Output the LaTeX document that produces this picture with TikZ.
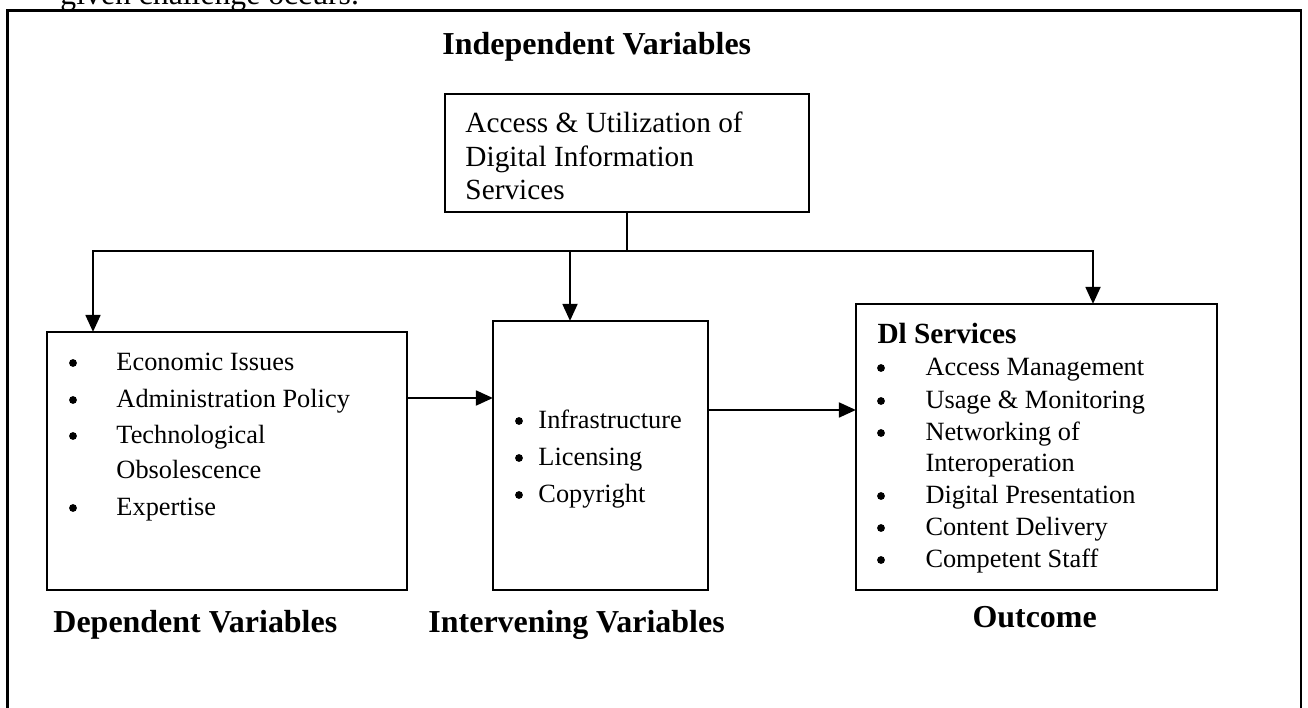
\documentclass[tikz,border=0pt]{standalone}
\usepackage{fontspec}
\setmainfont{Liberation Serif}
\usetikzlibrary{arrows.meta}
\begin{document}
\begin{tikzpicture}[x=0.41pt,y=-0.41pt,
  box/.style={draw, line width=0.8pt, inner sep=0pt, outer sep=0pt},
  conn/.style={line width=1.2pt},
  arr/.style={line width=1.2pt, -{Triangle[width=6pt,length=7pt]}},
  lbl/.style={anchor=base west, inner sep=0pt},
  body/.style={font=\fontsize{12}{14}\selectfont},
  item/.style={font=\fontsize{10.8}{13}\selectfont},
  ttl/.style={font=\fontsize{13.1}{15}\selectfont\bfseries},
  dot/.style={circle, fill, draw=none, inner sep=0pt, minimum size=3.2pt}]
\useasboundingbox (0,0) rectangle (1308,707);
% partial text above the frame
\node[lbl, font=\fontsize{13}{15}\selectfont] (prev) at (60,4) {given challenge occurs.};
% outer frame
\draw[line width=1pt] (7.5,730) -- (7.5,10.5) -- (1301,10.5) -- (1301,730);
% boxes
\node[box, line width=0.6pt, minimum width=149.24pt, minimum height=48.38pt] (top) at (627,153) {};
\node[box, minimum width=147.6pt, minimum height=105.78pt] (dep) at (227,461) {};
\node[box, minimum width=88.15pt, minimum height=110.29pt] (mid) at (600.5,455.5) {};
\node[box, minimum width=148.01pt, minimum height=117.26pt] (out) at (1036.5,447) {};
% connectors
\coordinate (junc) at (627,251);
\coordinate (jl) at (93,251);
\coordinate (jm) at (570,251);
\coordinate (jr) at (1093,251);
\draw[line width=0.6pt] (top.south) -- (junc);
\draw[arr] (junc) -- (jl) -- (jl |- dep.north);
\draw[arr] (junc) -- (jr) -- (jr |- out.north);
\draw[arr] (jm) -- (jm |- mid.north);
\coordinate (a1) at ([yshift=25.83pt]dep.east);
\draw[arr] (a1) -- (a1 -| mid.west);
\coordinate (a2) at ([yshift=18.66pt]mid.east);
\draw[arr] (a2) -- (a2 -| out.west);
% titles
\node[lbl, ttl] (ti) at (442,54) {Independent Variables};
\node[lbl, ttl] (td) at (53,632) {Dependent Variables};
\node[lbl, ttl] (tv) at (428,632) {Intervening Variables};
\node[lbl, ttl] (to) at (972,627) {Outcome};
% top box text
\node[lbl, body] (tb1) at (465,132) {Access \& Utilization of};
\node[lbl, body] (tb2) at (465,166) {Digital Information};
\node[lbl, body] (tb3) at (465,199) {Services};
% left list
\node[dot] (lb1) at (73,363) {};
\node[lbl, item] (l1) at (116,370) {Economic Issues};
\node[dot] (lb2) at (73,400) {};
\node[lbl, item] (l2) at (116,407) {Administration Policy};
\node[dot] (lb3) at (73,436) {};
\node[lbl, item] (l3) at (116,443) {Technological};
\node[lbl, item] (l3b) at (116,478) {Obsolescence};
\node[dot] (lb4) at (73,508) {};
\node[lbl, item] (l4) at (116,515) {Expertise};
% middle list
\node[dot] (mb1) at (519,421) {};
\node[lbl, item] (m1) at (538,428) {Infrastructure};
\node[dot] (mb2) at (519,458) {};
\node[lbl, item] (m2) at (538,465) {Licensing};
\node[dot] (mb3) at (519,495) {};
\node[lbl, item] (m3) at (538,502) {Copyright};
% right list
\node[lbl, font=\fontsize{12}{14}\selectfont\bfseries] (rh) at (877,343) {Dl Services};
\node[dot] (rb1) at (881,368) {};
\node[lbl, item] (r1) at (925,375) {Access Management};
\node[dot] (rb2) at (881,401) {};
\node[lbl, item] (r2) at (925,408) {Usage \& Monitoring};
\node[dot] (rb3) at (881,433) {};
\node[lbl, item] (r3) at (925,440) {Networking of};
\node[lbl, item] (r3b) at (925,471) {Interoperation};
\node[dot] (rb4) at (881,496) {};
\node[lbl, item] (r4) at (925,503) {Digital Presentation};
\node[dot] (rb5) at (881,528) {};
\node[lbl, item] (r5) at (925,535) {Content Delivery};
\node[dot] (rb6) at (881,560) {};
\node[lbl, item] (r6) at (925,567) {Competent Staff};
\end{tikzpicture}
\end{document}
